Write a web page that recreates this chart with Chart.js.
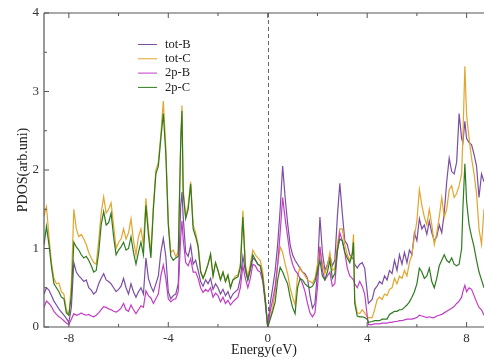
<!DOCTYPE html>
<html>
<head>
<meta charset="utf-8">
<script src="https://cdn.jsdelivr.net/npm/chart.js@4.4.1/dist/chart.umd.min.js"></script>
<style>
  html, body { margin: 0; padding: 0; background: #fff; }
  #wrap { width: 484px; height: 359px; }
</style>
</head>
<body>
<div id="wrap"><canvas id="pdos" width="484" height="359"></canvas></div>
<script>
// PDOS of B and C, one row per eV

const energy = [
  -9.0, -8.9, -8.8, -8.7, -8.6, -8.5, -8.4, -8.3, -8.2, -8.1,
  -8.0, -7.9, -7.8, -7.7, -7.6, -7.5, -7.4, -7.3, -7.2, -7.1,
  -7.0, -6.9, -6.8, -6.7, -6.6, -6.5, -6.4, -6.3, -6.2, -6.1,
  -6.0, -5.9, -5.8, -5.7, -5.6, -5.5, -5.4, -5.3, -5.2, -5.1,
  -5.0, -4.9, -4.8, -4.7, -4.6, -4.5, -4.4, -4.3, -4.2, -4.1,
  -4.0, -3.9, -3.8, -3.7, -3.6, -3.5, -3.45, -3.4, -3.3, -3.2, -3.1,
  -3.0, -2.9, -2.8, -2.7, -2.6, -2.5, -2.4, -2.3, -2.2, -2.1,
  -2.0, -1.9, -1.8, -1.7, -1.6, -1.5, -1.4, -1.3, -1.2, -1.1,
  -1.0, -0.9, -0.8, -0.7, -0.6, -0.5, -0.4, -0.3, -0.2, -0.1,
  0.0, 0.1, 0.2, 0.3, 0.4, 0.5, 0.6, 0.7, 0.8, 0.9,
  1.0, 1.1, 1.2, 1.3, 1.4, 1.5, 1.6, 1.7, 1.8, 1.9,
  2.0, 2.1, 2.2, 2.3, 2.4, 2.5, 2.6, 2.7, 2.8, 2.9,
  3.0, 3.1, 3.2, 3.3, 3.4, 3.45, 3.5, 3.6, 3.7, 3.8, 3.9,
  4.0, 4.05, 4.2, 4.3, 4.4, 4.5, 4.6, 4.7, 4.8, 4.9,
  5.0, 5.1, 5.2, 5.3, 5.4, 5.5, 5.6, 5.7, 5.8, 5.9,
  6.0, 6.1, 6.2, 6.3, 6.4, 6.5, 6.6, 6.7, 6.8, 6.9,
  7.0, 7.1, 7.2, 7.3, 7.4, 7.5, 7.6, 7.7, 7.8, 7.85, 7.93,
  8.0, 8.1, 8.2, 8.3, 8.4, 8.5, 8.6, 8.7
];

const totB = [
  0.42, 0.50, 0.47, 0.40, 0.33, 0.28, 0.23, 0.19, 0.15, 0.11,
  0.06, 0.25, 0.82, 0.70, 0.65, 0.62, 0.58, 0.60, 0.50, 0.47,
  0.42, 0.45, 0.55, 0.62, 0.68, 0.60, 0.58, 0.55, 0.50, 0.45,
  0.48, 0.52, 0.62, 0.50, 0.42, 0.55, 0.45, 0.38, 0.45, 0.50,
  0.42, 0.88, 0.62, 0.52, 0.45, 0.55, 0.65, 0.95, 1.13, 0.90,
  0.45, 0.36, 0.40, 0.42, 0.55, 1.55, 1.72, 1.40, 0.95, 0.90, 1.04,
  0.80, 0.85, 0.72, 0.58, 0.52, 0.60, 0.55, 0.62, 0.48, 0.55,
  0.50, 0.42, 0.48, 0.40, 0.45, 0.36, 0.42, 0.45, 0.48, 0.62,
  0.90, 0.72, 0.60, 0.72, 0.88, 0.85, 0.80, 0.78, 0.65, 0.35,
  0.00, 0.30, 0.50, 0.72, 1.05, 1.50, 2.05, 1.65, 1.32, 1.05,
  0.92, 0.85, 0.80, 0.75, 0.70, 0.68, 0.62, 0.40, 0.24, 0.30,
  0.70, 1.40, 0.95, 0.72, 0.80, 0.90, 0.78, 0.85, 1.40, 1.83,
  1.45, 1.10, 1.05, 0.92, 0.88, 0.86, 0.80, 0.75, 0.80, 0.82, 0.75,
  0.45, 0.30, 0.35, 0.48, 0.52, 0.58, 0.55, 0.65, 0.60, 0.72,
  0.68, 0.85, 0.72, 0.92, 0.80, 0.95, 0.82, 0.98, 0.92, 1.20,
  1.10, 1.38, 1.25, 1.30, 1.18, 1.35, 1.20, 1.10, 1.15, 1.30,
  1.20, 1.45, 1.85, 2.15, 1.98, 1.95, 2.10, 2.72, 2.40, 2.35, 2.62,
  2.40, 2.35, 2.32, 2.20, 2.05, 1.65, 1.95, 1.85
];

const totC = [
  1.42, 1.53, 1.15, 0.82, 0.62, 0.55, 0.56, 0.45, 0.42, 0.22,
  0.15, 0.55, 1.50, 1.25, 1.15, 1.18, 1.12, 1.05, 0.95, 0.88,
  0.82, 0.80, 1.10, 1.45, 1.66, 1.45, 1.50, 1.58, 1.30, 1.00,
  1.08, 1.12, 1.25, 1.12, 1.20, 1.38, 1.10, 0.92, 1.15, 1.25,
  1.05, 1.64, 1.25, 0.95, 1.55, 2.00, 2.10, 2.45, 2.88, 2.30,
  1.35, 0.95, 0.98, 0.90, 0.95, 2.40, 2.82, 1.75, 1.40, 1.55, 1.85,
  1.30, 1.20, 1.05, 0.72, 0.62, 0.70, 0.80, 0.92, 0.65, 0.82,
  0.72, 0.60, 0.70, 0.58, 0.66, 0.50, 0.60, 0.65, 0.66, 0.80,
  1.48, 0.80, 0.64, 0.80, 0.98, 0.92, 0.88, 0.85, 0.70, 0.38,
  0.00, 0.12, 0.25, 0.45, 0.80, 1.02, 0.95, 0.80, 0.68, 0.50,
  0.38, 0.28, 0.65, 0.76, 0.70, 0.65, 0.60, 0.58, 0.56, 0.62,
  0.80, 1.00, 0.82, 0.68, 0.78, 0.95, 0.72, 0.75, 1.05, 1.25,
  1.25, 1.05, 0.92, 0.85, 0.95, 1.18, 0.35, 0.18, 0.17, 0.22, 0.18,
  0.13, 0.12, 0.12, 0.22, 0.35, 0.38, 0.35, 0.42, 0.40, 0.48,
  0.50, 0.62, 0.55, 0.65, 0.62, 0.72, 0.65, 0.82, 0.92, 1.15,
  1.35, 1.75, 1.55, 1.40, 1.30, 1.50, 1.30, 1.05, 1.20, 1.40,
  1.65, 1.40, 1.50, 1.75, 1.80, 1.65, 1.70, 1.80, 1.95, 2.40, 3.32,
  2.70, 2.40, 2.15, 1.95, 1.70, 1.25, 1.05, 1.50
];

const p2B = [
  0.25, 0.33, 0.30, 0.26, 0.20, 0.16, 0.13, 0.11, 0.08, 0.05,
  0.03, 0.10, 0.17, 0.15, 0.16, 0.18, 0.16, 0.15, 0.16, 0.14,
  0.13, 0.15, 0.18, 0.22, 0.26, 0.25, 0.23, 0.22, 0.20, 0.19,
  0.21, 0.24, 0.30, 0.22, 0.20, 0.28, 0.22, 0.17, 0.22, 0.27,
  0.25, 0.46, 0.40, 0.37, 0.30, 0.36, 0.42, 0.65, 0.79, 0.62,
  0.36, 0.32, 0.35, 0.36, 0.45, 1.15, 1.35, 1.12, 0.82, 0.78, 0.87,
  0.70, 0.70, 0.62, 0.50, 0.44, 0.48, 0.45, 0.50, 0.38, 0.43,
  0.40, 0.32, 0.38, 0.30, 0.34, 0.28, 0.32, 0.35, 0.38, 0.50,
  0.78, 0.62, 0.50, 0.62, 0.80, 0.78, 0.72, 0.70, 0.58, 0.30,
  0.00, 0.20, 0.35, 0.52, 0.80, 1.20, 1.65, 1.38, 1.15, 0.92,
  0.80, 0.72, 0.68, 0.62, 0.55, 0.45, 0.30, 0.18, 0.13, 0.18,
  0.50, 1.02, 0.72, 0.60, 0.65, 0.70, 0.52, 0.55, 0.95, 1.20,
  1.10, 0.95, 0.75, 0.65, 0.62, 0.60, 0.55, 0.50, 0.58, 0.52, 0.42,
  0.15, 0.03, 0.03, 0.04, 0.04, 0.04, 0.05, 0.05, 0.05, 0.06,
  0.06, 0.07, 0.07, 0.08, 0.08, 0.09, 0.10, 0.10, 0.10, 0.11,
  0.12, 0.15, 0.14, 0.13, 0.12, 0.13, 0.12, 0.12, 0.14, 0.15,
  0.16, 0.18, 0.20, 0.22, 0.24, 0.26, 0.30, 0.33, 0.38, 0.45, 0.53,
  0.45, 0.50, 0.48, 0.40, 0.32, 0.25, 0.22, 0.15
];

const p2C = [
  1.05, 1.28, 1.05, 0.77, 0.55, 0.50, 0.45, 0.38, 0.36, 0.18,
  0.15, 0.40, 1.08, 1.02, 0.98, 0.92, 0.88, 0.90, 0.85, 0.78,
  0.70, 0.72, 0.95, 1.30, 1.47, 1.30, 1.33, 1.45, 1.15, 0.92,
  0.98, 1.02, 1.08, 0.98, 1.00, 1.15, 0.95, 0.80, 0.95, 1.08,
  0.92, 1.55, 1.18, 0.88, 1.50, 1.95, 2.05, 2.40, 2.72, 2.20,
  1.30, 0.90, 0.85, 0.88, 0.90, 2.35, 2.75, 1.70, 1.38, 1.50, 1.82,
  1.25, 1.15, 1.02, 0.70, 0.62, 0.70, 0.80, 0.93, 0.65, 0.82,
  0.72, 0.60, 0.70, 0.58, 0.66, 0.50, 0.60, 0.62, 0.64, 0.76,
  1.40, 0.75, 0.60, 0.75, 0.92, 0.86, 0.80, 0.78, 0.62, 0.35,
  0.00, 0.10, 0.20, 0.32, 0.60, 0.76, 0.70, 0.62, 0.55, 0.38,
  0.25, 0.17, 0.50, 0.62, 0.60, 0.55, 0.52, 0.50, 0.52, 0.58,
  0.72, 0.85, 0.65, 0.60, 0.70, 0.85, 0.62, 0.68, 0.98, 1.12,
  1.10, 0.95, 0.88, 0.82, 0.92, 1.08, 0.30, 0.14, 0.13, 0.13, 0.12,
  0.10, 0.06, 0.07, 0.08, 0.08, 0.08, 0.10, 0.10, 0.10, 0.16,
  0.18, 0.20, 0.20, 0.22, 0.22, 0.25, 0.28, 0.32, 0.38, 0.45,
  0.55, 0.75, 0.70, 0.62, 0.65, 0.75, 0.58, 0.50, 0.62, 0.78,
  0.85, 0.92, 0.85, 0.82, 0.88, 0.80, 0.78, 0.80, 1.00, 1.50, 2.08,
  1.60, 1.30, 1.15, 1.02, 0.85, 0.70, 0.60, 0.50
];

const seriesNames = ['tot-B', 'tot-C', '2p-B', '2p-C'];
const xTicks = [-8, -6, -4, -2, 0, 2, 4, 6, 8];

const FONT = "'Liberation Serif', 'Times New Roman', serif";
const AXIS = '#555';

function pts(vals) {
  return energy.map((e, i) => ({ x: e, y: vals[i] }));
}

function makeSet(label, vals, color, order) {
  return {
    label: label,
    data: pts(vals),
    borderColor: color,
    backgroundColor: color,
    borderWidth: 1.2,
    pointRadius: 0,
    tension: 0,
    fill: false,
    order: order
  };
}

// frame, inward ticks, dashed Fermi line and the legend box
const framePlugin = {
  id: 'frame',
  beforeDatasetsDraw(chart) {
    const { ctx, chartArea: a, scales: { x } } = chart;
    const px = Math.round(x.getPixelForValue(0)) + 0.5;
    ctx.save();
    ctx.strokeStyle = '#666';
    ctx.lineWidth = 1;
    ctx.setLineDash([4, 3]);
    ctx.beginPath();
    ctx.moveTo(px, a.top);
    ctx.lineTo(px, a.bottom);
    ctx.stroke();
    ctx.restore();
  },
  afterDraw(chart) {
    const { ctx, chartArea: a, scales: { x, y } } = chart;
    ctx.save();
    ctx.strokeStyle = AXIS;
    ctx.lineWidth = 1.2;
    ctx.beginPath();
    ctx.moveTo(a.left, a.top);
    ctx.lineTo(a.right, a.top);
    ctx.moveTo(a.left, a.top);
    ctx.lineTo(a.left, a.bottom);
    ctx.lineTo(a.right, a.bottom);
    ctx.stroke();

    ctx.lineWidth = 1;
    ctx.beginPath();
    x.ticks.forEach(t => {
      const px = x.getPixelForValue(t.value);
      const len = t.value % 4 === 0 ? 5 : 3;
      ctx.moveTo(px, a.bottom);
      ctx.lineTo(px, a.bottom - len);
      ctx.moveTo(px, a.top);
      ctx.lineTo(px, a.top + len);
    });
    y.ticks.forEach(t => {
      const py = y.getPixelForValue(t.value);
      const len = Number.isInteger(t.value) ? 5 : 3;
      ctx.moveTo(a.left, py);
      ctx.lineTo(a.left + len, py);
    });
    ctx.stroke();

    // legend
    ctx.font = '12.5px ' + FONT;
    ctx.textBaseline = 'middle';
    ctx.textAlign = 'left';
    chart.data.datasets.forEach((ds, i) => {
      const ly = 44.5 + i * 14.3;
      ctx.strokeStyle = ds.borderColor;
      ctx.lineWidth = 1;
      ctx.beginPath();
      ctx.moveTo(138, ly);
      ctx.lineTo(157, ly);
      ctx.stroke();
      ctx.fillStyle = '#222';
      ctx.fillText(ds.label, 165, ly);
    });
    ctx.restore();
  }
};

new Chart(document.getElementById('pdos'), {
  type: 'line',
  data: {
    datasets: [
      makeSet(seriesNames[0], totB, '#7b4ea3', 4),
      makeSet(seriesNames[1], totC, '#e3a52c', 3),
      makeSet(seriesNames[2], p2B, '#c23cc6', 2),
      makeSet(seriesNames[3], p2C, '#2e7b20', 1)
    ]
  },
  options: {
    responsive: false,
    animation: false,
    layout: { padding: { top: 13, left: 0, right: 0, bottom: 0 } },
    plugins: {
      legend: { display: false },
      tooltip: { enabled: false }
    },
    scales: {
      x: {
        type: 'linear',
        min: -9,
        max: 8.7,
        afterBuildTicks: scale => { scale.ticks = xTicks.map(v => ({ value: v })); },
        afterFit: scale => { scale.height = 32; },
        grid: { display: false, drawTicks: false, tickLength: 0 },
        border: { display: false },
        ticks: {
          color: '#333',
          font: { family: FONT, size: 13 },
          padding: 4,
          maxRotation: 0,
          autoSkip: false,
          callback: v => (v % 4 === 0 ? String(v) : '')
        },
        title: {
          display: true,
          text: 'Energy(eV)',
          color: '#222',
          font: { family: FONT, size: 14 },
          padding: { top: 0, bottom: 0 }
        }
      },
      y: {
        min: 0,
        max: 4,
        afterFit: scale => { scale.width = 44; },
        grid: { display: false, drawTicks: false, tickLength: 0 },
        border: { display: false },
        ticks: {
          stepSize: 0.5,
          color: '#333',
          font: { family: FONT, size: 13 },
          padding: 5,
          callback: v => (Number.isInteger(v) ? String(v) : '')
        },
        title: {
          display: true,
          text: 'PDOS(arb.uni)',
          color: '#222',
          font: { family: FONT, size: 14 },
          padding: { top: 15, bottom: 0 }
        }
      }
    }
  },
  plugins: [framePlugin]
});
</script>
</body>
</html>
